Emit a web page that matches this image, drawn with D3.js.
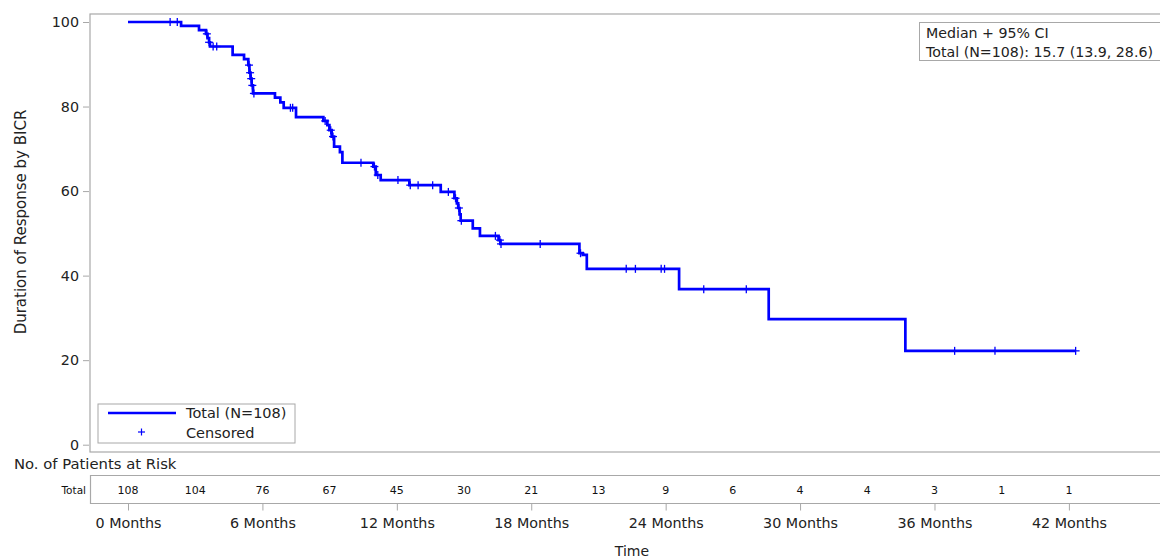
<!DOCTYPE html>
<html><head><meta charset="utf-8">
<script src="https://cdn.jsdelivr.net/npm/d3@7"></script>
<style>body{margin:0;background:#fff}svg{display:block;font-family:"DejaVu Sans",sans-serif}</style>
</head><body>
<svg id="c" width="1160" height="559"></svg>
<script>
// Kaplan-Meier steps: time (months) at which survival drops, and survival after drop
const stepTimes = [0, 2.37, 3.17, 3.48, 3.55, 3.62, 3.66, 4.67, 5.18, 5.37, 5.42, 5.47, 5.52, 5.58, 6.56, 6.80, 6.95, 7.50, 8.72, 8.90, 8.99, 9.09, 9.20, 9.46, 9.57, 10.95, 11.06, 11.28, 12.56, 13.96, 14.57, 14.68, 14.74, 14.80, 14.85, 15.39, 15.71, 16.54, 16.62, 20.15, 20.30, 20.48, 24.60, 28.60, 34.70];
const stepSurv  = [100, 99.1, 98.1, 97.2, 96.2, 95.2, 94.2, 92.2, 91.2, 89.8, 88.0, 86.6, 85.0, 83.1, 82.1, 81.0, 79.7, 77.5, 76.6, 75.6, 74.4, 72.9, 70.5, 69.2, 66.7, 65.8, 63.8, 62.6, 61.4, 59.8, 58.3, 57.1, 56.0, 54.5, 53.0, 51.2, 49.4, 48.4, 47.5, 45.3, 44.9, 41.6, 36.8, 29.7, 22.2];
const lastTime = 42.3;
const censorTimes = [1.88, 2.20, 3.52, 3.62, 3.80, 3.96, 5.40, 5.45, 5.50, 5.55, 5.62, 7.25, 7.35, 8.80, 9.05, 9.15, 10.40, 11.00, 11.15, 12.05, 12.60, 12.95, 13.60, 14.30, 14.62, 14.77, 14.88, 16.40, 16.60, 16.65, 18.40, 20.20, 22.24, 22.65, 23.80, 23.95, 25.70, 27.60, 36.90, 38.70, 42.30];
const riskTimes = [0, 3, 6, 9, 12, 15, 18, 21, 24, 27, 30, 33, 36, 39, 42];
const riskCounts = [108, 104, 76, 67, 45, 30, 21, 13, 9, 6, 4, 4, 3, 1, 1];
const xTicks = [0, 6, 12, 18, 24, 30, 36, 42];
const yTicks = [0, 20, 40, 60, 80, 100];

const FONT = '"DejaVu Sans",sans-serif';
const svg = d3.select("#c");
const x = d3.scaleLinear().domain([0, 42]).range([128, 1068.9]);
const y = d3.scaleLinear().domain([0, 100]).range([444.7, 22]);
const L = 90, R = 1160, T = 14, B = 452;
const gray = "#a8a8a8";
const txt = "#222";

function survAt(t){ let s = 100; for (let i=0;i<stepTimes.length;i++){ if (stepTimes[i] <= t) s = stepSurv[i]; } return s; }

// plot frame
svg.append("rect").attr("x", L).attr("y", T).attr("width", R - L + 5).attr("height", B - T)
  .attr("fill", "none").attr("stroke", gray).attr("stroke-width", 1.2);

// y axis
const yAxis = d3.axisLeft(y).tickValues(yTicks).tickSize(6).tickPadding(4);
const gy = svg.append("g").attr("transform", `translate(${L-1},0)`).call(yAxis);
gy.select(".domain").remove();
gy.selectAll("line").attr("stroke", gray);
gy.selectAll("text").attr("font-size", 14.3).attr("fill", txt).style("font-family", FONT);

svg.append("text").attr("transform", "translate(26,222) rotate(-90)").attr("text-anchor", "middle")
  .attr("font-size", 15).attr("fill", txt).text("Duration of Response by BICR");

// KM line
const pts = [];
for (let i=0;i<stepTimes.length;i++){
  if (i>0) pts.push([stepTimes[i], stepSurv[i-1]]);
  pts.push([stepTimes[i], stepSurv[i]]);
}
pts.push([lastTime, stepSurv[stepSurv.length-1]]);
svg.append("path").datum(pts)
  .attr("d", d3.line().x(d => x(d[0])).y(d => y(d[1])))
  .attr("fill", "none").attr("stroke", "#0000ff").attr("stroke-width", 2.7);

// censor marks
const cs = 4;
const cg = svg.append("g").attr("stroke", "#0000ff").attr("stroke-width", 1.3);
censorTimes.forEach(t => {
  const cx = x(t), cy = y(survAt(t));
  cg.append("line").attr("x1", cx - cs).attr("x2", cx + cs).attr("y1", cy).attr("y2", cy);
  cg.append("line").attr("x1", cx).attr("x2", cx).attr("y1", cy - cs).attr("y2", cy + cs);
});

// legend bottom-left
svg.append("rect").attr("x", 98).attr("y", 404).attr("width", 197).attr("height", 39)
  .attr("fill", "#fff").attr("stroke", gray).attr("stroke-width", 1);
svg.append("line").attr("x1", 108).attr("x2", 176).attr("y1", 413).attr("y2", 413)
  .attr("stroke", "#0000ff").attr("stroke-width", 2.7);
svg.append("text").attr("x", 186).attr("y", 418).attr("font-size", 14.5).attr("fill", txt).text("Total (N=108)");
svg.append("line").attr("x1", 138).attr("x2", 145).attr("y1", 432).attr("y2", 432).attr("stroke", "#0000ff").attr("stroke-width", 1.2);
svg.append("line").attr("x1", 141.5).attr("x2", 141.5).attr("y1", 428.5).attr("y2", 435.5).attr("stroke", "#0000ff").attr("stroke-width", 1.2);
svg.append("text").attr("x", 186).attr("y", 438).attr("font-size", 14.5).attr("fill", txt).text("Censored");

// median box top-right
svg.append("rect").attr("x", 919.5).attr("y", 22.5).attr("width", 260).attr("height", 38)
  .attr("fill", "#fff").attr("stroke", gray).attr("stroke-width", 1);
svg.append("text").attr("x", 926).attr("y", 38).attr("font-size", 14.2).attr("fill", txt).text("Median + 95% CI");
svg.append("text").attr("x", 926).attr("y", 57).attr("font-size", 14.2).attr("fill", txt).text("Total (N=108): 15.7 (13.9, 28.6)");

// risk table
svg.append("text").attr("x", 14).attr("y", 469).attr("font-size", 14.8).attr("fill", txt).text("No. of Patients at Risk");
svg.append("line").attr("x1", L).attr("x2", R).attr("y1", 475.5).attr("y2", 475.5).attr("stroke", gray).attr("stroke-width", 1.2);
svg.append("line").attr("x1", L).attr("x2", R).attr("y1", 503.5).attr("y2", 503.5).attr("stroke", gray).attr("stroke-width", 1.2);
svg.append("line").attr("x1", L + 0.5).attr("x2", L + 0.5).attr("y1", 475).attr("y2", 504).attr("stroke", gray).attr("stroke-width", 1.2);
svg.append("text").attr("x", 86).attr("y", 494).attr("text-anchor", "end").attr("font-size", 10.5).attr("fill", "#111").text("Total");
svg.append("g").selectAll("text").data(riskTimes).join("text")
  .attr("x", d => x(d)).attr("y", 494).attr("text-anchor", "middle").attr("font-size", 11).attr("fill", "#111")
  .text((d, i) => riskCounts[i]);

// x axis
const xAxis = d3.axisBottom(x).tickValues(xTicks).tickSize(7).tickPadding(7).tickFormat(d => d + " Months");
const gx = svg.append("g").attr("transform", `translate(0,${503.5})`).call(xAxis);
gx.select(".domain").remove();
gx.selectAll("line").attr("stroke", gray);
gx.selectAll("text").attr("font-size", 14.3).attr("fill", txt).style("font-family", FONT);

svg.append("text").attr("x", 632).attr("y", 556).attr("text-anchor", "middle").attr("font-size", 14).attr("fill", txt).text("Time");
</script>
</body></html>
